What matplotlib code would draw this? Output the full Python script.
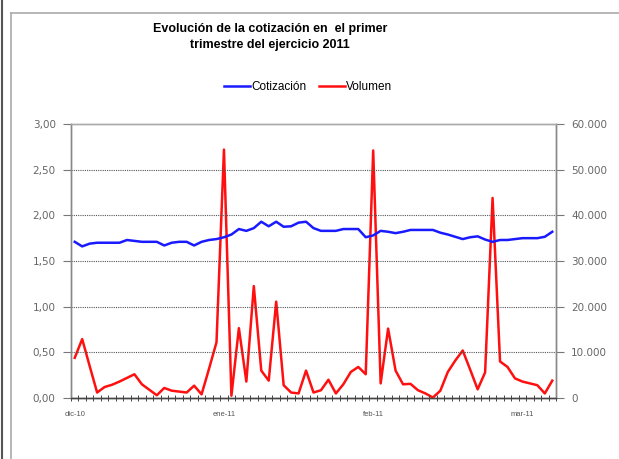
import numpy as np
import matplotlib.pyplot as plt
from matplotlib.lines import Line2D
from matplotlib.ticker import FuncFormatter

# daily values, Dec 2010 - Mar 2011 (65 sessions)
cotizacion = [1.71, 1.66, 1.69, 1.70, 1.70, 1.70, 1.70, 1.73, 1.72, 1.71,
              1.71, 1.71, 1.67, 1.70, 1.71, 1.71, 1.67, 1.71, 1.73, 1.74,
              1.76, 1.79, 1.85, 1.83, 1.86, 1.93, 1.88, 1.93, 1.875, 1.88,
              1.92, 1.93, 1.86, 1.83, 1.83, 1.83, 1.85, 1.85, 1.85, 1.76,
              1.78, 1.83, 1.82, 1.805, 1.82, 1.84, 1.84, 1.84, 1.84, 1.81,
              1.79, 1.765, 1.74, 1.76, 1.77, 1.735, 1.71, 1.73, 1.73, 1.74,
              1.75, 1.75, 1.75, 1.765, 1.82]
volumen = [8800, 12900, 7000, 1200, 2400, 2900, 3600, 4400, 5200, 3000,
           1800, 600, 2200, 1600, 1400, 1200, 2700, 800, 6400, 12200,
           54400, 500, 15300, 3600, 24500, 6000, 3800, 21100, 2800, 1200,
           1000, 6000, 1200, 1700, 4000, 1000, 3000, 5700, 6800, 5200,
           54200, 3200, 15200, 6000, 3000, 3100, 1700, 1000, 100, 1600,
           5700, 8200, 10400, 6200, 1900, 5600, 43800, 8000, 6800, 4300,
           3600, 3200, 2800, 1000, 3800]
mes_pos = [0, 20, 40, 60]
mes_labels = ["dic-10", "ene-11", "feb-11", "mar-11"]

plt.rcParams['font.family'] = ['Liberation Sans', 'DejaVu Sans']

fig = plt.figure(figsize=(6.19, 4.59), dpi=100)
ax = fig.add_axes([71/619, 61/459, 485/619, 274/459])
ax2 = ax.twinx()

x = np.arange(len(cotizacion))
l1, = ax.plot(x, cotizacion, color='#1a1aff', lw=1.8, zorder=3)
l2, = ax2.plot(x, volumen, color='#ff1010', lw=1.8, zorder=3)
ax.set_zorder(ax2.get_zorder() + 1)
ax.patch.set_visible(False)

ax.set_xlim(-0.5, len(x) - 0.5)
ax.set_ylim(0, 3)
ax2.set_ylim(0, 60000)
ax.set_yticks(np.arange(0, 3.01, 0.5))
ax2.set_yticks(np.arange(0, 60001, 10000))
ax.yaxis.set_major_formatter(FuncFormatter(lambda v, p: f"{v:.2f}".replace('.', ',')))
ax2.yaxis.set_major_formatter(FuncFormatter(lambda v, p: "0" if v == 0 else f"{int(v):,}".replace(',', '.')))

for y in np.arange(0.5, 2.51, 0.5):
    ax.axhline(y, color='#555555', lw=0.8, ls=(0, (1, 1)), zorder=1)

# ticks at category boundaries, labels at month starts
ax.set_xticks(np.arange(-0.5, len(x), 1))
ax.set_xticklabels([])
ax.set_xticks(mes_pos, minor=True)
ax.set_xticklabels(mes_labels, minor=True)
ax.tick_params(axis='x', which='major', direction='inout', length=5, width=0.7, color='#444444')
ax.tick_params(axis='x', which='minor', length=0, pad=9, labelsize=5.5, labelcolor='#555555')
for a in (ax, ax2):
    a.tick_params(axis='y', direction='out', length=6, width=0.8, color='#777777',
                  labelsize=7.5, labelcolor='#666666', pad=5)
    for lab in a.get_yticklabels():
        lab.set_family('DejaVu Sans')
    a.spines['left'].set_color('#888888')
    a.spines['right'].set_color('#888888')
    a.spines['top'].set_color('#aaaaaa')
    a.spines['bottom'].set_color('#444444')
    for s in a.spines.values():
        s.set_linewidth(1.0)

fig.text(270/619, 1 - 37/459, "Evolución de la cotización en  el primer\ntrimestre del ejercicio 2011",
         ha='center', va='center', fontsize=9, fontweight='bold', linespacing=1.45)

fig.legend([l1, l2], ["Cotización", "Volumen"], loc='center', bbox_to_anchor=(308/619, 1 - 87/459),
           ncol=2, frameon=False, fontsize=8.5, handlelength=2.2, handletextpad=0.1, columnspacing=1.1)

# chart frame
fig.add_artist(Line2D([11/619, 11/619], [0, 1 - 13/459], color='#aaaaaa', lw=1.2))
fig.add_artist(Line2D([11/619, 1], [1 - 13/459, 1 - 13/459], color='#aaaaaa', lw=1.2))
fig.add_artist(Line2D([2/619, 2/619], [0, 1], color='#555555', lw=1.5))

fig.savefig("out.png", dpi=100)
